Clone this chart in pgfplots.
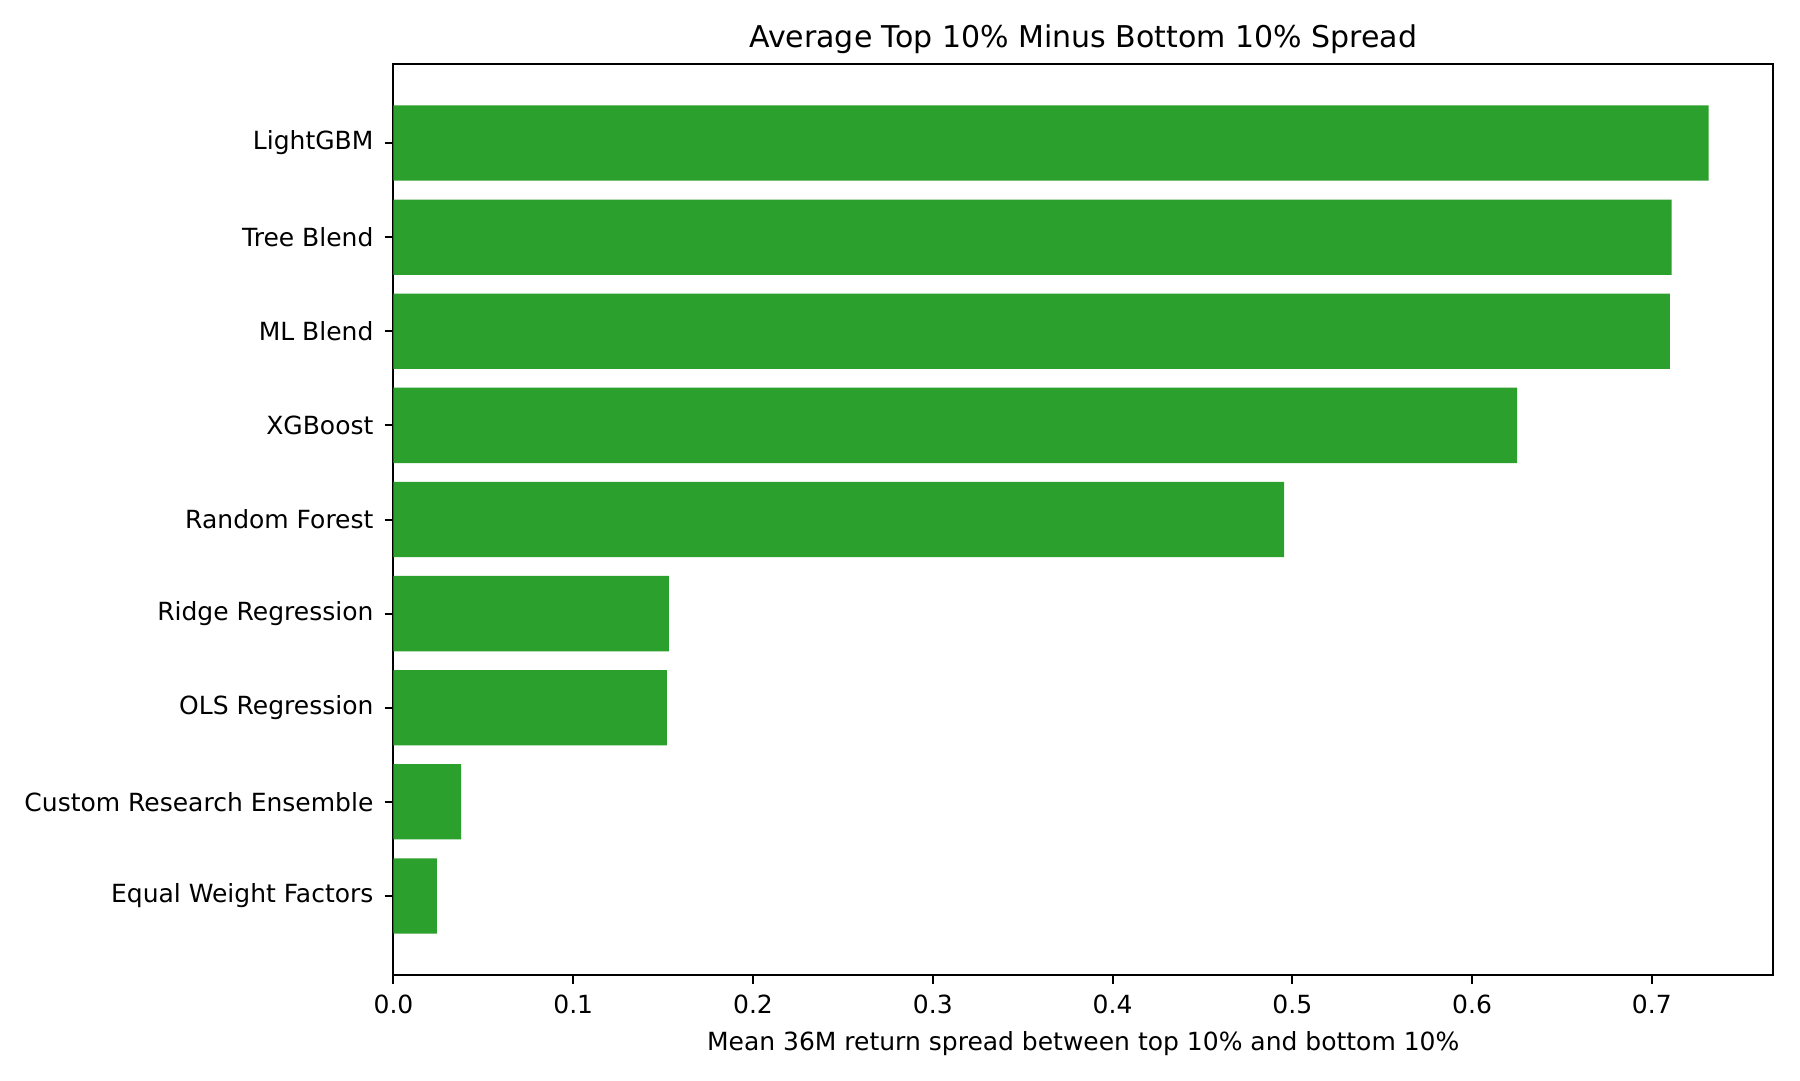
\documentclass[border=0pt]{standalone}
\usepackage{pgfplots}
\pgfplotsset{compat=1.18}
\usepackage{fontspec}
\setmainfont{DejaVu Sans}
\definecolor{barg}{HTML}{2CA02C}

\begin{document}
\begin{tikzpicture}
\useasboundingbox (-157.4pt,-42pt) rectangle (562.6pt,390pt);
\begin{axis}[
  at={(0,0)}, anchor=south west,
  scale only axis,
  width=551.8pt, height=364.4pt,
  xbar, bar width=0.8, bar shift=0pt,
  xmin=0, xmax=0.7674,
  ymin=-0.84, ymax=8.84,
  xtick={0,0.1,0.2,0.3,0.4,0.5,0.6,0.7},
  ytick={0,1,2,3,4,5,6,7,8},
  yticklabels={Equal Weight Factors, Custom Research Ensemble, OLS Regression,
    Ridge Regression, Random Forest, XGBoost, ML Blend, Tree Blend, LightGBM},
  /pgf/number format/assume math mode=true,
  xticklabel={\pgfmathprintnumber[fixed,fixed zerofill,precision=1]{\tick}},
  tick align=outside,
  xtick pos=bottom, ytick pos=left,
  major tick length=3.5pt,
  every tick/.style={black, line width=0.8pt},
  axis line style={line width=0.8pt},
  tick label style={font=\fontsize{10}{12}\selectfont},
  xticklabel style={yshift=-1pt},
  yticklabel style={xshift=-1pt},
  title={Average Top 10\% Minus Bottom 10\% Spread},
  title style={font=\fontsize{12}{14}\selectfont, yshift=-5.5pt},
  xlabel={Mean 36M return spread between top 10\% and bottom 10\%},
  xlabel style={font=\fontsize{10}{12}\selectfont, yshift=0pt},
]
\addplot[fill=barg, draw=none] coordinates {
  (0.0242,0) (0.0376,1) (0.1521,2) (0.1532,3) (0.4955,4)
  (0.6250,5) (0.7100,6) (0.7110,7) (0.7316,8)
};
\end{axis}
\end{tikzpicture}
\end{document}
